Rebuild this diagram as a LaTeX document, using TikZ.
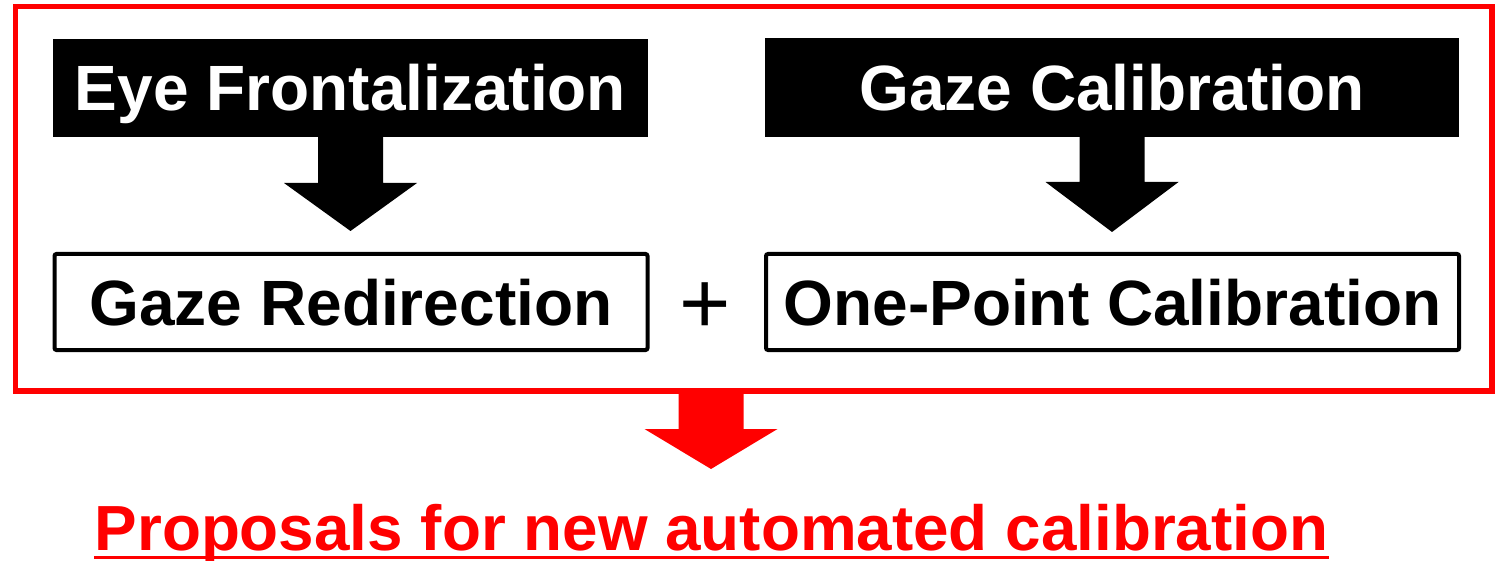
\documentclass[tikz,border=0pt]{standalone}
\usepackage{fontspec}
\setmainfont{Liberation Sans}
\usetikzlibrary{calc}

% block arrow pointing down: centre x, top y, head y, tip y, shaft half-width, head half-width, colour
\newcommand{\downblock}[7]{%
  \fill[#7] (#1-#5,#2) -- (#1+#5,#2) -- (#1+#5,#3) -- (#1+#6,#3) -- (#1,#4)
    -- (#1-#6,#3) -- (#1-#5,#3) -- cycle;}

\begin{document}
\begin{tikzpicture}[x=1pt,y=-1pt,
  boxfont/.style={font=\bfseries\fontsize{64}{70}\selectfont},
  titlebox/.style={boxfont, fill=black, text=white, draw=none, inner sep=0pt,
    text height=46pt, text depth=0pt, anchor=center},
  stagebox/.style={boxfont, draw=black, line width=4pt, fill=white, rounded corners=2pt,
    inner sep=0pt, text height=46pt, text depth=0pt, anchor=center},
  frame/.style={draw=red, line width=5.5pt, inner sep=0pt},
]
\useasboundingbox (0,0) rectangle (1504,561);

% outer red frame
\node[frame, minimum width=1476.5pt, minimum height=384.5pt] (frame) at (753.75,198.75) {};

% top row: method titles
\node[titlebox, minimum width=595pt, minimum height=98pt] (ef) at (350.5,88) {Eye Frontalization};
\node[titlebox, minimum width=694pt, minimum height=99pt] (gc) at (1112,87.5) {Gaze Calibration};

% bottom row: resulting stages
\node[stagebox, minimum width=593pt, minimum height=96pt] (gr) at (351,302) {Gaze Redirection};
\node[stagebox, minimum width=693pt, minimum height=96pt] (opc) at (1112.5,302) {One-Point Calibration};

% plus sign between the stages
\node[font=\fontsize{88}{90}\selectfont, inner sep=0pt, anchor=base] (plus) at (705,333) {+};

% black block arrows from titles to stages
\downblock{350.5}{137}{183}{231}{32.5}{66.5}{black}
\downblock{1112}{137}{182}{232}{32.5}{66.5}{black}

% red block arrow out of the frame
\downblock{711}{391}{429}{469}{32.5}{66.5}{red}

% conclusion text, underlined
\node[font=\bfseries\fontsize{63.8}{70}\selectfont, text=red, inner sep=0pt, anchor=base] (prop) at (711.5,550) {Proposals for new automated calibration};
\draw[red, line width=3pt] ($(prop.base west)+(0,7.5)$) -- ($(prop.base east)+(0,7.5)$);
\end{tikzpicture}
\end{document}
